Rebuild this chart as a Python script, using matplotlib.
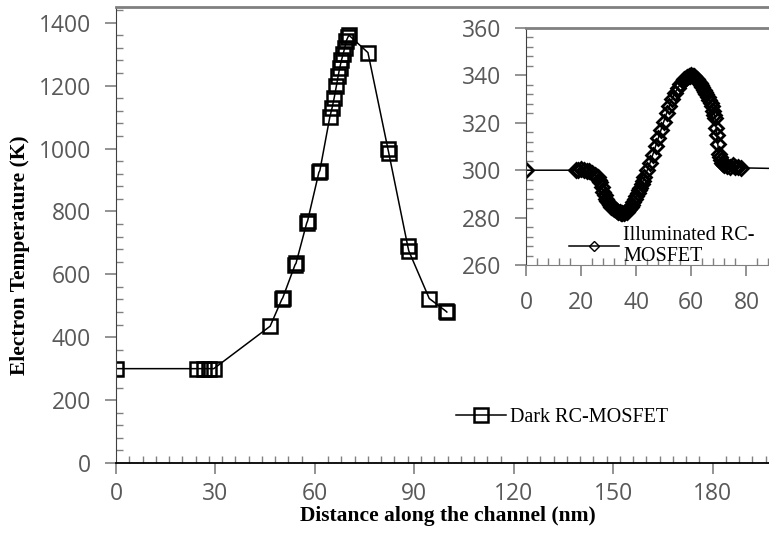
import matplotlib.pyplot as plt
from matplotlib.ticker import MultipleLocator

# Dark RC-MOSFET (main plot)
dark_x = [0, 24.5, 26.5, 28, 29.5, 46.5, 50, 50.3, 54, 54.3, 57.5, 57.8, 61.2, 61.5,
          64.5, 65.2, 65.8, 66.5, 67, 67.5, 68, 68.5, 69, 69.5, 70, 70.3, 76, 82, 82.3,
          88, 88.3, 94.5, 99.5, 99.8]
dark_y = [300, 300, 300, 300, 300, 435, 520, 525, 630, 635, 762, 770, 924, 930,
          1100, 1130, 1160, 1200, 1230, 1257, 1280, 1300, 1320, 1343, 1355, 1360, 1305, 1000, 985,
          690, 675, 523, 483, 480]

# Illuminated RC-MOSFET (inset)
ill_x = [0, 18, 19, 20, 21, 22, 23, 24, 25, 25.5, 26, 26.5, 27, 27.5, 28, 28.5, 29, 29.5,
         30, 30.5, 31, 31.5, 32, 32.5, 33, 33.5, 34, 34.5, 35, 35.5, 36, 36.5, 37, 37.5,
         38, 38.5, 39, 39.5, 40, 40.5, 41, 41.5, 42, 42.5, 43, 44, 45, 46, 47, 48, 49, 50,
         51, 52, 53, 54, 55, 56, 57, 57.5, 58, 58.5, 59, 59.5, 60, 60.5, 61, 61.5, 62, 62.5,
         63, 63.5, 64, 64.5, 65, 65.5, 66, 66.5, 67, 67.5, 68, 68.3, 68.6, 69, 69.3, 69.6,
         70, 70.3, 70.6, 71, 71.5, 72, 73, 74, 75, 76, 77, 78, 100]
ill_y = [300, 300, 300, 300.3, 300, 299.8, 299.5, 299, 298, 297.5, 297, 296, 295, 293, 291,
         289.5, 288, 287, 286, 285.3, 284.5, 284, 283.5, 283.1, 282.8, 282.5, 282.3, 282.1,
         282, 282, 282.2, 282.5, 283, 283.7, 284.5, 285.5, 286.5, 287.7, 289, 290.2, 291.5,
         292.7, 294, 295.5, 297, 300, 303, 306.5, 310, 313.5, 317, 320.5, 324, 327, 330,
         332.5, 334.5, 336.3, 337.8, 338.4, 339, 339.4, 339.7, 339.9, 340, 339.8, 339.6,
         339.1, 338.5, 337.8, 337, 336, 335, 334, 333, 332, 331, 329.8, 328.5, 327, 325,
         323.5, 322, 318, 315, 311, 307, 305.5, 304.3, 303, 302.5, 302, 301.8, 301.5, 302,
         301.5, 301.5, 301, 300.5]

tick_font = 'Open Sans'
tick_col = '#595959'
serif = 'Liberation Serif'

fig = plt.figure(figsize=(7.69, 5.35), dpi=100)

ax = fig.add_axes([116/769, 1-463/535, 663/769, 456/535])
ax.plot(dark_x, dark_y, color='black', lw=1.1, marker='s', ms=9.5, mfc='none',
        mec='black', mew=1.8, label='Dark RC-MOSFET')
ax.set_xlim(0, 200)
ax.set_ylim(0, 1450)
ax.xaxis.set_minor_locator(MultipleLocator(4))
ax.yaxis.set_minor_locator(MultipleLocator(40))
ax.set_yticks([0, 200, 400, 600, 800, 1000, 1200, 1400])
ax.set_xticks([0, 30, 60, 90, 120, 150, 180])
ax.tick_params(which='major', direction='out', length=8, width=1.2, color='#808080')
ax.tick_params(which='minor', direction='in', length=5, width=1, color='#808080')
ax.tick_params(labelsize=16.5, labelcolor=tick_col)
ax.tick_params(axis='x', pad=6)
ax.tick_params(axis='y', pad=10)
for lab in ax.get_xticklabels() + ax.get_yticklabels():
    lab.set_fontfamily(tick_font)
ax.spines['right'].set_visible(False)
ax.spines['top'].set_color('#808080')
ax.spines['top'].set_linewidth(2)
ax.spines['left'].set_color('#404040')
ax.spines['bottom'].set_color('black')
ax.spines['bottom'].set_linewidth(1.3)
ax.set_xlabel('Distance along the channel (nm)', fontfamily=serif, fontweight='bold',
              fontsize=15.5, labelpad=0)
ax.set_ylabel('Electron Temperature (K)', fontfamily=serif, fontweight='bold',
              fontsize=15.5)
ax.yaxis.set_label_coords(-0.130, 0.456)
ax.legend(loc='center left', bbox_to_anchor=(0.5, 0.099), frameon=False,
          prop={'family': serif, 'size': 14.5}, handlelength=2.5,
          handletextpad=0.2, borderaxespad=0)

# inset
axi = fig.add_axes([526/769, 1-265/535, 248/769, 237/535])
axi.plot(ill_x, ill_y, color='black', lw=1.1, marker='D', ms=7.5, mfc='none',
         mec='black', mew=2.0, label='Illuminated RC-\nMOSFET')
axi.set_xlim(0, 90)
axi.set_ylim(260, 360)
axi.xaxis.set_major_locator(MultipleLocator(20))
axi.xaxis.set_minor_locator(MultipleLocator(4))
axi.yaxis.set_major_locator(MultipleLocator(20))
axi.yaxis.set_minor_locator(MultipleLocator(4))
axi.tick_params(which='major', direction='out', length=8, width=1.2, color='#808080')
axi.tick_params(which='minor', direction='in', length=5, width=1, color='#808080')
axi.tick_params(labelsize=16.5, labelcolor=tick_col)
axi.tick_params(axis='x', pad=11)
axi.tick_params(axis='y', pad=10)
for lab in axi.get_xticklabels() + axi.get_yticklabels():
    lab.set_fontfamily(tick_font)
axi.spines['right'].set_visible(False)
axi.spines['top'].set_color('#808080')
axi.spines['top'].set_linewidth(2)
axi.spines['left'].set_color('#404040')
axi.spines['bottom'].set_color('#808080')
leg = axi.legend(loc='lower left', bbox_to_anchor=(0.14, -0.04), frameon=False,
                 prop={'family': serif, 'size': 14.5}, handlelength=2.5,
                 handletextpad=0.2, borderaxespad=0, labelspacing=0)
for h in leg.legend_handles:
    h.set_markersize(5)
    h.set_markeredgewidth(1)

fig.savefig('out.png', dpi=100)
